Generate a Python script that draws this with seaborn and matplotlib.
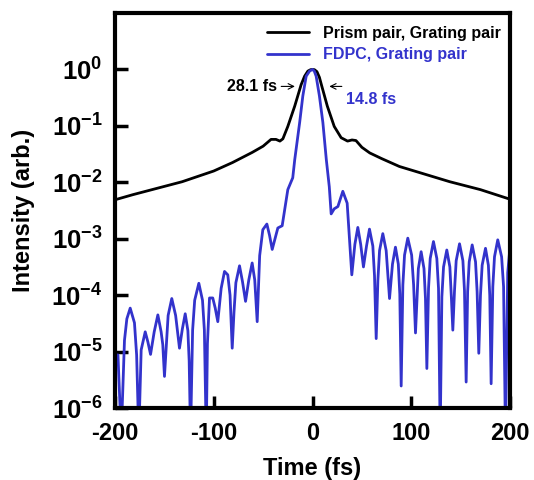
import numpy as np
import pandas as pd
import matplotlib
matplotlib.use("Agg")
import matplotlib.pyplot as plt
import seaborn as sns
from matplotlib.ticker import NullLocator

# ---------------- data ----------------
t_prism = [-200, -182, -132, -100, -81, -61, -50, -46, -42, -37, -33, -30, -25,
           -18, -11.5, -8, -4.7, -2, 0, 2, 4.5, 7, 9, 15, 22, 29, 35.5, 40, 44,
           50, 58, 70, 88, 139, 170, 200]
log_prism = [-2.31, -2.22, -1.99, -1.80, -1.65, -1.47, -1.36, -1.30, -1.24,
             -1.24, -1.27, -1.23, -1.01, -0.65, -0.27, -0.12, -0.03, -0.005,
             0.0, -0.005, -0.04, -0.14, -0.27, -0.65, -1.01, -1.21, -1.27,
             -1.25, -1.26, -1.38, -1.48, -1.58, -1.72, -1.99, -2.13, -2.30]

t_fdpc = [-200, -197, -193.7, -190.4, -188.0, -184.6, -180.3, -178.1, -175.9,
          -173.5, -169.4, -166.7, -164, -160.3, -156.6, -153.3, -151.6, -149.9,
          -146.2, -142.5, -138.6, -134.7, -131.8, -128.9, -126.2, -124.9,
          -123.5, -121.4, -119.3, -115.1, -111.4, -109.5, -107.6, -106.4,
          -104.3, -101, -98.5, -95.9, -92.5, -89.1, -85.8, -83.5, -81.3, -79.5,
          -77.6, -73.9, -70.9, -67.8, -64.5, -61.1, -58.5, -57.2, -56, -53.5,
          -50.3, -46.2, -43.5, -40.8, -35.1, -30.7, -25, -20, -18, -13, -9.8,
          -6.4, -3, 0, 1.8, 3.7, 7, 10.5, 14, 17, 18.9, 22, 25.7, 30.7, 35.1,
          39.8, 42.9, 45.9, 48.8, 51.6, 54.7, 57.7, 61.1, 62.8, 64.5, 66.2,
          67.9, 71.2, 74.6, 78, 81, 84, 86.9, 88.4, 89.8, 91.5, 93.2, 96.5,
          100.4, 102.4, 104.3, 107.2, 110, 112.9, 114.4, 115.8, 117.5, 119.2,
          122.5, 125.9, 127.6, 129.3, 131, 132.7, 136, 139.1, 140.6, 142.1,
          143.8, 145.5, 148.9, 152.3, 153.9, 155.6, 157.1, 158.7, 161.7, 165.1,
          166.7, 168.4, 170.1, 171.8, 175.2, 178.1, 179.5, 180.9, 182.6, 184.3,
          187.6, 191.5, 193.5, 195.4, 197.7, 200]
log_fdpc = [-5.06, -5.06, -6.5, -4.80, -4.42, -4.23, -4.49, -5.06, -6.5,
            -4.97, -4.65, -4.83, -5.05, -4.65, -4.35, -4.65, -4.88, -5.44,
            -4.36, -4.06, -4.36, -4.94, -4.60, -4.33, -4.63, -5.16,
            -6.5, -4.62, -4.09, -3.79, -4.09, -4.62, -6.5, -4.86,
            -4.05, -4.05, -4.23, -4.47, -3.88, -3.58, -3.64, -4.00, -4.94, -4.30,
            -3.78, -3.48, -3.76, -4.11, -3.73, -3.43, -3.73, -4.10, -4.47, -3.30,
            -2.84, -2.74, -2.94, -3.19, -2.81, -2.77, -2.13, -1.92, -1.60, -0.94,
            -0.47, -0.12, -0.03, 0.0, -0.03, -0.12, -0.47, -0.94, -1.60, -2.08,
            -2.56, -2.47, -2.43, -2.16, -2.37,
            -3.64, -3.10, -2.80, -3.10, -3.50, -3.13, -2.83, -3.13, -3.66, -4.77,
            -3.74, -3.21, -2.91, -3.21, -4.06, -3.45, -3.15, -3.45, -3.98, -5.61,
            -3.82, -3.29, -2.99, -3.29, -3.82, -4.67, -3.53, -3.23, -3.53, -4.06,
            -5.30, -3.88, -3.35, -3.05, -3.35, -3.88, -6.5, -4.03, -3.50, -3.20,
            -3.50, -4.03, -4.62, -3.92, -3.39, -3.09, -3.39, -3.92, -5.54, -3.94,
            -3.41, -3.11, -3.41, -3.94, -5.03, -4.00, -3.47, -3.17, -3.47, -4.00,
            -5.57, -3.85, -3.32, -3.02, -3.32, -3.85, -6.5, -3.60, -3.15]

series_labels = ["Prism pair, Grating pair", "FDPC, Grating pair"]
x_ticks = [-200, -100, 0, 100, 200]
y_exponents = [-6, -5, -4, -3, -2, -1, 0]

BLUE = "#3333CC"

# ---------------- style ----------------
sns.set_style("ticks")
plt.rcParams["font.family"] = ["Liberation Sans", "DejaVu Sans"]
plt.rcParams["font.weight"] = "bold"
plt.rcParams["mathtext.fontset"] = "custom"
plt.rcParams["mathtext.rm"] = "Liberation Sans:bold"
plt.rcParams["mathtext.bf"] = "Liberation Sans:bold"
plt.rcParams["mathtext.it"] = "Liberation Sans:bold"
plt.rcParams["mathtext.default"] = "bf"
for k in ["text.color", "axes.labelcolor", "xtick.color", "ytick.color",
          "axes.edgecolor"]:
    plt.rcParams[k] = "black"

df = pd.concat([
    pd.DataFrame({"Time": t_prism, "Intensity": np.power(10.0, log_prism),
                  "Series": series_labels[0]}),
    pd.DataFrame({"Time": t_fdpc, "Intensity": np.power(10.0, log_fdpc),
                  "Series": series_labels[1]}),
], ignore_index=True)

fig = plt.figure(figsize=(5.34, 4.8), dpi=100)
ax = fig.add_axes([115 / 534, 1 - 408 / 480, 395 / 534, 395 / 480])

sns.lineplot(data=df, x="Time", y="Intensity", hue="Series",
             palette={series_labels[0]: "black", series_labels[1]: BLUE},
             hue_order=series_labels, sort=False, estimator=None,
             linewidth=2.0, ax=ax, legend=False)

ax.set_yscale("log")
ax.set_xlim(-200, 200)
ax.set_ylim(1e-6, 1e1)
ax.set_xticks(x_ticks)
ax.set_xticklabels([str(v) for v in x_ticks])
ax.set_yticks([10.0 ** e for e in y_exponents])
ax.set_yticklabels([r"$\mathbf{10^{%d}}$" % e for e in y_exponents])
ax.yaxis.set_minor_locator(NullLocator())
ax.xaxis.set_minor_locator(NullLocator())

for s in ax.spines.values():
    s.set_linewidth(3)
ax.tick_params(axis="both", direction="in", length=9, width=2.5,
               top=False, right=False)
ax.tick_params(axis="x", pad=10, labelsize=17)
ax.tick_params(axis="y", pad=9, labelsize=18.5)
for lab in ax.get_xticklabels() + ax.get_yticklabels():
    lab.set_fontweight("bold")

ax.set_xlabel("Time (fs)", fontsize=17, fontweight="bold", labelpad=9)
ax.set_ylabel("Intensity (arb.)", fontsize=17, fontweight="bold", labelpad=12)

# legend
lines = ax.get_lines()
leg = ax.legend(lines[:2], series_labels, loc="upper left",
                bbox_to_anchor=(267 / 534, 1 - 26 / 480),
                bbox_transform=fig.transFigure, frameon=False,
                prop={"size": 11.5, "weight": "bold"}, handlelength=2.6,
                handletextpad=0.9, labelspacing=0.4, borderpad=0,
                borderaxespad=0)
leg.get_texts()[1].set_color(BLUE)

# FWHM annotations
ax.annotate("", xy=(-15, 0.5), xytext=(-34.5, 0.5),
            arrowprops=dict(arrowstyle="->", lw=0.8, color="black"))
ax.text(-35.5, 0.5, "28.1 fs", ha="right", va="center", fontsize=11.5,
        fontweight="bold", color="black")
ax.annotate("", xy=(14.2, 0.5), xytext=(32.5, 0.5),
            arrowprops=dict(arrowstyle="->", lw=0.8, color="black"))
ax.text(34.4, 0.29, "14.8 fs", ha="left", va="center", fontsize=11.5,
        fontweight="bold", color=BLUE)

fig.savefig("out.png", dpi=100)
